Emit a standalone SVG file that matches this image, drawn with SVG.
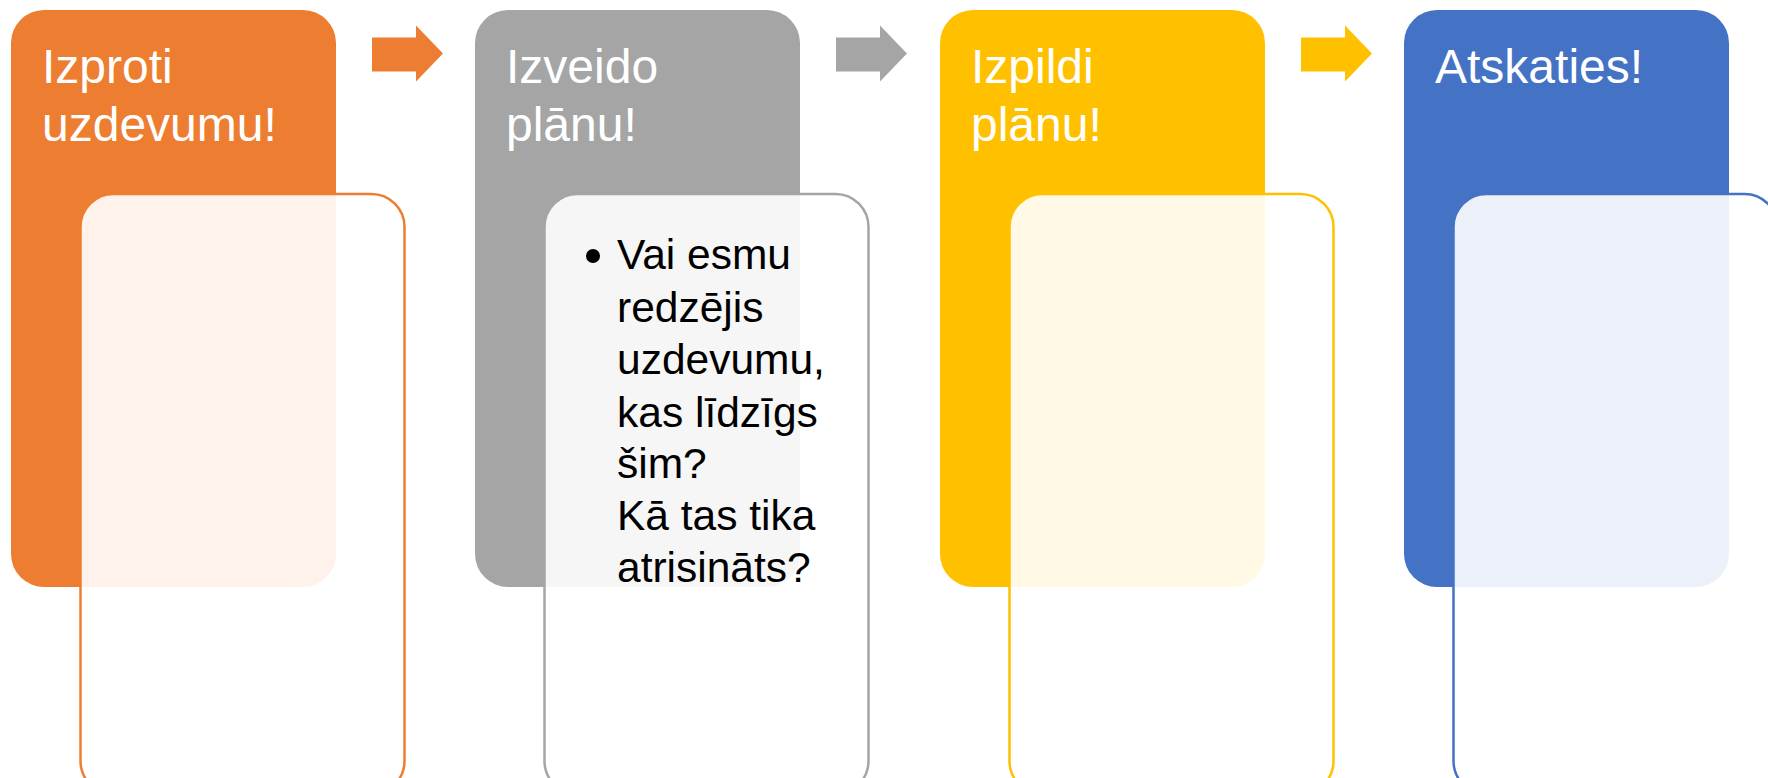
<svg xmlns="http://www.w3.org/2000/svg" width="1768" height="778" viewBox="0 0 1768 778">
<style>
.title{font-family:"Liberation Sans",Arial,sans-serif;font-size:48px;fill:#ffffff}
.body{font-family:"Liberation Sans",Arial,sans-serif;font-size:42.5px;fill:#000000}
.inner{fill:#ffffff;fill-opacity:0.9;stroke-width:2.5}
</style>
<rect width="1768" height="778" fill="#ffffff"/>
<g id="connectors">
<path d="M372,37.5 H416 V25.5 L443,53.5 L416,81.5 V71.5 H372 Z" fill="#ED7D31"/>
<path d="M836,37.5 H880 V25.5 L907,53.5 L880,81.5 V71.5 H836 Z" fill="#A5A5A5"/>
<path d="M1301,37.5 H1345 V25.5 L1372,53.5 L1345,81.5 V71.5 H1301 Z" fill="#FFC000"/>
</g>
<g id="node-izproti">
<rect x="11" y="10" width="325" height="577" rx="33" fill="#ED7D31"/>
<text class="title" x="42" y="83">Izproti</text>
<text class="title" x="42" y="141">uzdevumu!</text>
<rect class="inner" x="80.5" y="194" width="324" height="600" rx="33" stroke="#ED7D31"/>
</g>
<g id="node-izveido">
<rect x="475" y="10" width="325" height="577" rx="33" fill="#A5A5A5"/>
<text class="title" x="506" y="83">Izveido</text>
<text class="title" x="506" y="141">plānu!</text>
<rect class="inner" x="544.5" y="194" width="324" height="600" rx="33" stroke="#A5A5A5"/>
<circle cx="593" cy="256" r="7" fill="#000000"/>
<text class="body" x="617" y="269">Vai esmu</text>
<text class="body" x="617" y="322">redzējis</text>
<text class="body" x="617" y="374">uzdevumu,</text>
<text class="body" x="617" y="427">kas līdzīgs</text>
<text class="body" x="617" y="478">šim?</text>
<text class="body" x="617" y="530">Kā tas tika</text>
<text class="body" x="617" y="582">atrisināts?</text>
</g>
<g id="node-izpildi">
<rect x="940" y="10" width="325" height="577" rx="33" fill="#FFC000"/>
<text class="title" x="971" y="83">Izpildi</text>
<text class="title" x="971" y="141">plānu!</text>
<rect class="inner" x="1009.5" y="194" width="324" height="600" rx="33" stroke="#FFC000"/>
</g>
<g id="node-atskaties">
<rect x="1404" y="10" width="325" height="577" rx="33" fill="#4472C4"/>
<text class="title" x="1435" y="83">Atskaties!</text>
<rect class="inner" x="1453.5" y="194" width="324" height="600" rx="33" stroke="#4472C4"/>
</g>
</svg>
